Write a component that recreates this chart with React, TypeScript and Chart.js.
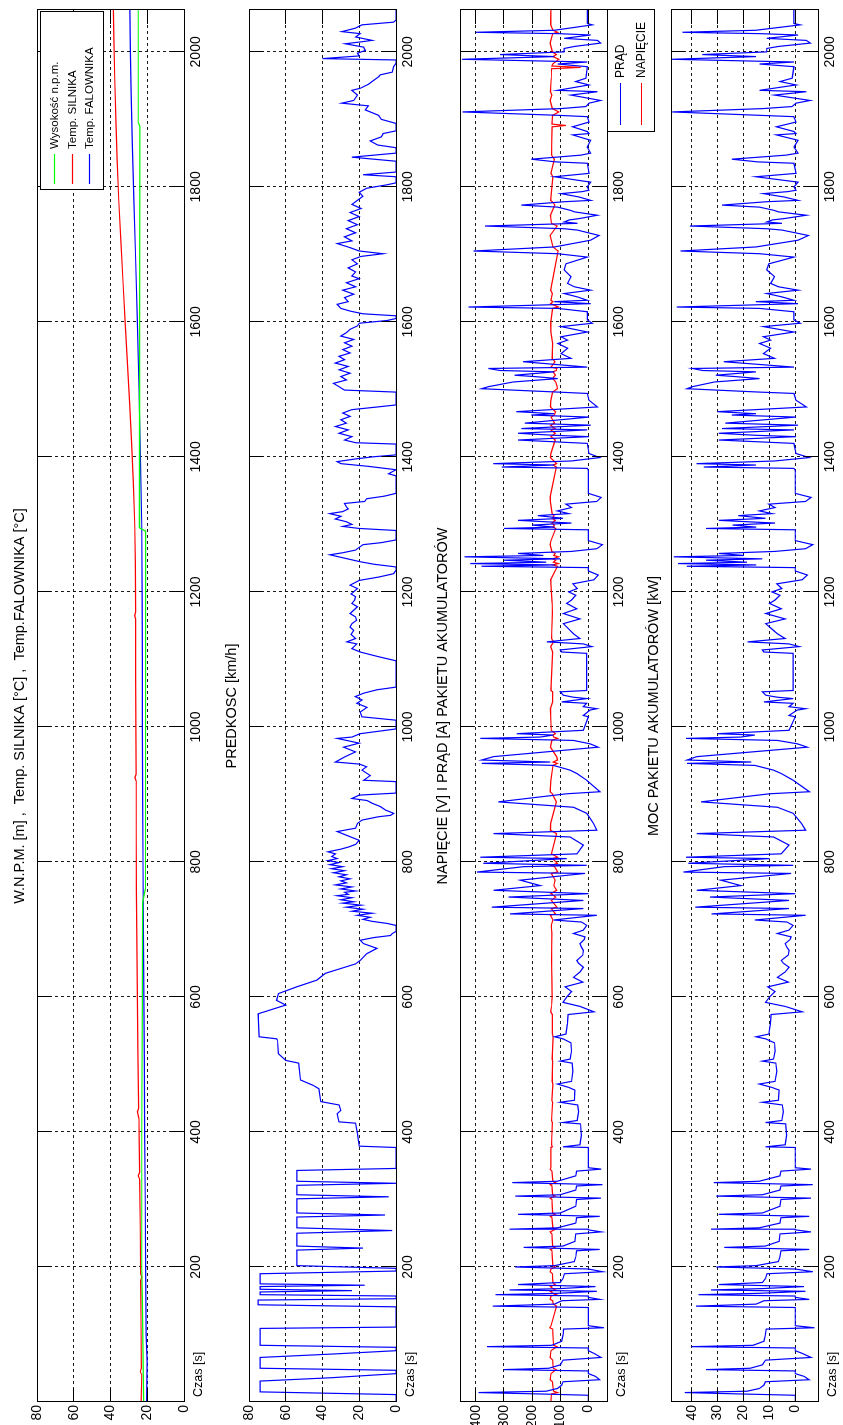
import React, { useEffect, useRef } from "react";
import { Chart, registerables } from "chart.js";

Chart.register(...registerables);

// ---------------- layout (figure drawn in landscape, then rotated) ----------------
const FIG_W = 1425;
const FIG_H = 843;
const PLOT_L = 23;
const PLOT_R = 1415;
const PANEL_TOPS = [37, 249, 460, 671];
const PANEL_H = 147;
const TOP_PAD = 35;
const TICK_LEN = 14;
const FONT = '"Liberation Sans", Arial, Helvetica, sans-serif';

// ---------------- data ----------------
const TIME_MIN = 0;
const TIME_MAX = 2062;
const TIME_TICKS = [0, 200, 400, 600, 800, 1000, 1200, 1400, 1600, 1800, 2000];

const TITLES = [
  "W.N.P.M. [m] ,  Temp. SILNIKA [°C] ,  Temp.FALOWNIKA [°C]",
  "PREDKOSC [km/h]",
  "NAPIĘCIE [V] I PRĄD [A] PAKIETU AKUMULATORÓW",
  "MOC PAKIETU AKUMULATORÓW [kW]",
];

const TEMP_TICKS = [0, 20, 40, 60, 80];
const SPEED_TICKS = [0, 20, 40, 60, 80];
const ELEC_TICKS = [0, 100, 200, 300, 400];
const POWER_TICKS = [0, 10, 20, 30, 40];

const LEGEND1 = ["Wysokość n.p.m.", "Temp. SILNIKA", "Temp. FALOWNIKA"];
const LEGEND3 = ["PRĄD", "NAPIĘCIE"];

type Pt = [number, number];

// altitude [m]
const altitudePts: Pt[] = [
  [0, 22.0], [150, 22.6], [200, 23.0], [400, 23.0], [600, 22.7], [740, 22.5], [760, 21.0],
  [1290, 20.9], [1295, 24.3], [1600, 24.2], [1890, 24.0], [1895, 24.9], [2062, 24.9],
];

// motor temperature [°C]
const motorTempPts: Pt[] = [
  [0, 23.3], [40, 23.0], [45, 23.8], [50, 23.2], [120, 23.4], [180, 23.6], [185, 22.9], [190, 23.6],
  [260, 23.8], [330, 24.1], [335, 24.9], [340, 24.2], [420, 24.6], [430, 25.4], [435, 24.7],
  [520, 25.1], [600, 25.4], [680, 25.7], [760, 25.9], [840, 26.0], [920, 26.1], [925, 26.7],
  [930, 26.1], [1000, 26.2], [1080, 26.3], [1160, 26.3], [1165, 26.9], [1170, 26.3], [1240, 26.5],
  [1300, 26.8], [1360, 27.5], [1420, 28.5], [1480, 29.6], [1540, 30.8], [1600, 32.0], [1660, 33.2],
  [1720, 34.4], [1780, 35.5], [1840, 36.4], [1900, 37.1], [1960, 37.7], [2020, 38.2], [2062, 38.4],
];

// inverter temperature [°C]
const inverterTempPts: Pt[] = [
  [0, 20.3], [60, 20.1], [100, 20.6], [200, 20.9], [300, 21.1], [400, 21.4], [500, 21.6],
  [600, 21.8], [700, 22.1], [800, 22.3], [900, 22.5], [1000, 22.6], [1100, 22.7], [1200, 22.8],
  [1300, 23.0], [1400, 23.7], [1500, 24.5], [1600, 25.4], [1700, 26.4], [1780, 27.3],
  [1860, 28.1], [1940, 28.8], [2000, 29.2], [2062, 29.5],
];

// speed [km/h]
const speedPts: Pt[] = [
  [0, 0], [11, 0], [15, 74], [31, 74], [36, 35], [42, 0], [47, 0], [50, 74], [66, 74], [71, 35],
  [76, 0], [81, 0], [84, 74], [109, 74], [111, 0], [141, 0], [144, 75], [151, 75], [153, 0],
  [157, 0], [159, 74], [163, 74], [165, 24], [167, 74], [171, 74], [173, 17], [175, 74], [190, 74],
  [194, 0], [198, 0], [202, 54], [225, 54], [228, 18], [231, 54], [250, 54], [254, 2], [258, 54],
  [274, 54], [277, 6], [280, 54], [301, 54], [304, 4], [307, 54], [321, 54], [324, 0], [327, 54],
  [343, 54], [346, 0], [377, 0], [379, 20], [398, 21], [413, 22], [415, 31], [427, 32], [432, 30],
  [440, 31], [445, 41], [464, 42], [469, 45], [477, 52], [502, 53], [506, 60], [516, 64],
  [536, 64.5], [538, 65], [541, 74.5], [575, 75], [588, 60], [595, 65], [605, 64], [615, 54],
  [625, 43], [635, 38.5], [649, 22], [654, 19.5], [664, 16], [672, 10.4], [679, 17.6], [684, 19.5],
  [688, 12], [691, 3], [694, 2], [697, 0], [706, 0], [709, 5], [712, 13], [715, 18], [718, 14],
  [721, 21], [724, 13], [727, 24], [730, 18], [733, 27], [736, 19], [739, 29], [741, 23], [744, 30],
  [747, 24], [750, 32], [752, 26], [755, 28], [757, 22], [760, 30], [763, 24], [766, 33], [769, 27],
  [772, 30], [775, 25], [778, 31], [781, 27], [784, 34], [787, 28], [790, 35], [793, 29], [796, 36],
  [799, 31], [802, 37], [805, 32], [808, 35], [812, 33], [815, 37], [819, 30], [822, 26], [826, 22],
  [832, 20], [845, 32], [850, 22], [857, 21],
  [862, 18.5], [867, 9.5], [869, 3], [872, 1.3], [877, 5.8], [882, 8.5], [887, 13], [891, 15.8],
  [894, 24], [899, 20], [902, 0], [919, 0], [921, 17.6], [928, 14], [936, 18.5], [941, 16],
  [945, 20], [948, 33], [956, 27.6], [963, 22], [970, 28.5], [976, 20], [983, 32], [985, 24],
  [990, 19.5], [997, 0], [1010, 0], [1015, 18.5], [1022, 19.5], [1029, 15.8], [1035, 21.3],
  [1040, 18.5], [1045, 22.2], [1050, 17.6], [1055, 10.4], [1059, 0], [1098, 0], [1104, 9.5],
  [1111, 19.5], [1116, 24], [1123, 21.3], [1126, 26.7], [1131, 22], [1137, 24.5], [1143, 23],
  [1148, 25], [1153, 24], [1158, 21.5], [1163, 22], [1168, 25], [1173, 23], [1178, 21], [1183, 24],
  [1188, 22.5], [1193, 22], [1197, 24.5], [1200, 23], [1205, 21], [1210, 25], [1217, 20],
  [1222, 9.5], [1227, 1.3], [1232, 0], [1237, 0], [1241, 12], [1245, 20], [1250, 28], [1255, 36],
  [1258, 29], [1262, 22], [1266, 20], [1270, 18], [1273, 8], [1277, 0], [1291, 0], [1294, 20],
  [1297, 29], [1300, 24], [1304, 27], [1308, 33], [1312, 30], [1316, 36], [1319, 29], [1323, 26],
  [1326, 27], [1331, 28], [1334, 17], [1338, 16], [1342, 6], [1346, 0], [1372, 0], [1375, 4],
  [1378, 2], [1381, 0], [1386, 15], [1390, 30], [1393, 32], [1397, 22], [1400, 13], [1403, 0],
  [1419, 0], [1421, 22], [1425, 28], [1430, 24], [1435, 31], [1440, 26], [1445, 33], [1450, 27],
  [1455, 30], [1460, 25], [1465, 29], [1470, 24], [1474, 10], [1477, 0], [1496, 0], [1499, 28],
  [1504, 31], [1509, 34], [1514, 27], [1519, 30], [1524, 25], [1529, 31], [1534, 26], [1539, 33],
  [1544, 28], [1549, 31], [1554, 25], [1559, 29], [1564, 24], [1569, 28], [1574, 23], [1579, 30],
  [1584, 27], [1589, 25], [1594, 21], [1598, 20], [1602, 5], [1605, 0], [1609, 0], [1612, 18],
  [1616, 25], [1620, 30], [1626, 32], [1630, 26], [1636, 28], [1641, 23], [1647, 29], [1652, 22],
  [1658, 27], [1664, 20], [1668, 24], [1674, 22], [1680, 26], [1686, 21], [1692, 24], [1697, 19],
  [1701, 7], [1705, 20], [1710, 25], [1716, 32], [1720, 24], [1726, 28], [1732, 22], [1738, 27],
  [1744, 21], [1750, 26], [1756, 20], [1762, 25], [1768, 19], [1774, 24], [1780, 21], [1786, 18],
  [1792, 20], [1798, 16], [1803, 5], [1806, 0], [1815, 0], [1818, 18], [1822, 0], [1838, 0],
  [1844, 24], [1850, 0], [1858, 0], [1862, 10], [1868, 14], [1874, 8], [1879, 7], [1883, 0],
  [1894, 0], [1900, 8], [1906, 9.5], [1914, 16.7], [1920, 15], [1924, 29.5], [1928, 23],
  [1936, 21], [1943, 24], [1946, 19.5], [1952, 15], [1958, 12], [1963, 9.5], [1966, 8.5],
  [1970, 2], [1978, 1.3], [1983, 0], [1988, 0], [1990, 40], [1994, 20], [1998, 21], [2002, 16.7],
  [2007, 17.6], [2012, 27.6], [2015, 18.5], [2017, 13], [2022, 22], [2027, 19.5], [2030, 29.5],
  [2035, 22.2], [2040, 18.5], [2044, 1.3], [2047, 0], [2062, 0],
];

// battery current [A]
const currentPts: Pt[] = [
  [0, 0], [10, 0], [12, 180], [14, 390], [16, 150], [20, 110], [25, 95], [30, 90], [33, -40],
  [38, -25], [42, 0], [46, 0], [48, 300], [50, 140], [55, 100], [62, 90], [66, -45], [72, -20],
  [76, 0], [80, 0], [82, 360], [84, 130], [90, 95], [100, 90], [108, 88], [110, -55], [113, 0],
  [140, 0], [142, 340], [145, 120], [150, 95], [152, -40], [155, 0], [157, 0], [159, 330],
  [161, 110], [164, -30], [166, 280], [168, 100], [171, -25], [174, 250], [177, 100], [183, 90],
  [190, 85], [193, -50], [197, 0], [200, 260], [202, 120], [208, 50], [215, 45], [224, 42],
  [226, -40], [229, 230], [231, 90], [238, 48], [249, 45], [252, -45], [255, 0], [256, 280],
  [258, 110], [265, 45], [273, 42], [275, -40], [278, 250], [280, 100], [290, 45], [300, 42],
  [302, -45], [305, 260], [307, 100], [314, 45], [320, 42], [322, -50], [325, 270], [327, 110],
  [335, 45], [342, 42], [345, -45], [347, 0], [377, 0], [378, 90], [381, 30], [395, 25], [412, 28],
  [414, 90], [417, 40], [430, 35], [440, 38], [444, 100], [447, 50], [462, 48], [466, 70],
  [471, 110], [475, 60], [490, 55], [502, 58], [505, 100], [508, 65], [520, 60], [532, 62],
  [538, 90], [541, 120], [545, 80], [560, 75], [574, 72], [578, -20], [586, 30], [592, 90],
  [600, 77], [608, 60], [615, 83], [622, 20], [629, 53], [637, 30], [644, 18], [650, 35], [654, 41],
  [662, 20], [669, 18], [674, 25], [679, 30], [685, 15], [689, 12], [694, 53], [699, 18], [706, 6],
  [711, 24], [714, 124], [721, -30], [723, 278], [731, 18], [733, 343], [743, 18], [748, 284],
  [753, 0], [758, 337], [765, 171], [773, 242], [783, 12], [785, 396], [793, 231], [795, 6],
  [798, 373], [805, 77], [807, 384], [812, 41], [825, 18], [837, 65], [842, 337], [847, -30],
  [857, -18], [872, 6], [881, 53], [889, 320], [901, 77], [904, -41], [921, 6], [931, 41], [936, 65],
  [943, 124], [946, 379], [948, 136], [951, 379], [956, 337], [970, -35], [975, -6], [980, 53],
  [983, 384], [985, 171], [988, 124], [990, 254], [995, 18], [1015, 0], [1017, 18], [1025, -6],
  [1027, -30], [1030, 18], [1035, 6], [1037, 95], [1042, 6], [1044, 53], [1047, 89], [1052, 100],
  [1054, 6], [1109, 6], [1111, 95], [1114, 100], [1119, -12], [1123, 18], [1126, 148], [1131, 30],
  [1138, 53], [1143, 65], [1153, 89], [1160, 30], [1168, 89], [1175, 41], [1183, 77], [1188, 60],
  [1195, 45], [1200, 70], [1205, 40], [1212, 55], [1218, -20], [1225, -35], [1231, 0], [1236, 0],
  [1238, 380], [1240, 120], [1242, 420], [1244, 150], [1247, 300], [1249, 100], [1252, 440],
  [1254, 160], [1257, 250], [1260, 60], [1264, -30], [1270, -50], [1276, 0], [1292, 0],
  [1294, 300], [1296, 120], [1299, 200], [1302, 60], [1306, 250], [1309, 90], [1313, 180],
  [1316, 70], [1320, 110], [1325, 60], [1330, 80], [1334, -30], [1340, -45], [1346, 0], [1380, 0],
  [1383, 4], [1385, 308], [1388, 121], [1390, 338], [1394, 60], [1399, -40], [1405, -2], [1420, 4],
  [1425, 250], [1430, -2], [1432, 121], [1435, 250], [1440, 4], [1442, 238], [1447, -8],
  [1450, 226], [1459, -2], [1462, 203], [1464, 121], [1467, 256], [1474, -32], [1484, -2],
  [1494, 4], [1496, 109], [1501, 379], [1504, 355], [1511, 267], [1516, 109], [1519, 191],
  [1521, 262], [1526, 121], [1528, 314], [1531, 355], [1533, 4], [1541, 232], [1546, 62],
  [1553, 97], [1561, 74], [1568, 109], [1573, 74], [1578, 97], [1585, 4], [1593, 97], [1598, -14],
  [1603, 4], [1615, 4], [1620, 109], [1622, 426], [1627, -8], [1630, 121], [1632, 4], [1637, 39],
  [1642, 86], [1647, -8], [1652, 50], [1657, 74], [1667, 62], [1677, 86], [1686, 80], [1696, 4],
  [1701, 109], [1705, 408], [1711, 121], [1721, -8], [1728, -38], [1736, 39], [1738, 86],
  [1742, 367], [1746, 39], [1748, 86], [1751, 68], [1753, 33], [1758, -32], [1763, 50], [1765, 62],
  [1770, 109], [1773, 238], [1778, 86], [1780, -8], [1785, 33], [1790, 97], [1793, 21], [1795, -2],
  [1800, 4], [1807, -8], [1815, 121], [1820, -2], [1835, 4], [1837, 115], [1841, 203], [1847, 27],
  [1850, -8], [1859, 4], [1869, -8], [1877, 56], [1879, -2], [1882, 4], [1889, 56], [1896, -2],
  [1904, 4], [1906, 109], [1911, 447], [1916, 97], [1919, 9], [1924, -2], [1928, -43], [1936, 62],
  [1941, -32], [1943, 109], [1951, -2], [1956, 45], [1961, 9], [1978, 4], [1982, 109], [1985, 4],
  [1989, 449], [1993, 121], [1996, 314], [2000, 86], [2005, 86], [2008, 50], [2013, -43],
  [2017, -32], [2020, 86], [2025, -8], [2027, 109], [2029, 400], [2032, 121], [2040, -14],
  [2042, 4], [2062, 4],
];

// battery voltage [V]
const voltagePts: Pt[] = [
  [0, 133], [12, 131], [14, 110], [16, 124], [30, 128], [33, 136], [42, 133], [48, 115], [50, 125],
  [62, 127], [66, 136], [76, 133], [82, 112], [84, 124], [108, 127], [110, 137], [113, 133],
  [142, 113], [145, 125], [150, 127], [152, 136], [157, 133], [159, 114], [161, 126], [164, 135],
  [166, 117], [168, 126], [171, 135], [174, 118], [177, 126], [190, 128], [193, 136], [197, 133],
  [200, 117], [202, 126], [224, 130], [226, 135], [229, 119], [231, 127], [249, 130], [252, 136],
  [256, 117], [258, 126], [273, 130], [275, 135], [278, 118], [280, 127], [300, 130], [302, 136],
  [305, 118], [307, 127], [320, 130], [322, 136], [325, 117], [327, 126], [342, 130], [345, 136],
  [347, 133], [377, 133], [378, 128], [381, 131], [414, 128], [417, 131], [444, 127], [447, 130],
  [471, 126], [475, 129], [505, 127], [508, 129], [541, 125], [545, 128], [574, 128], [578, 134],
  [586, 131], [600, 129], [629, 130], [654, 131], [694, 130], [706, 132], [714, 126], [721, 135],
  [723, 117], [731, 132], [733, 112], [743, 132], [748, 116], [753, 133], [758, 113], [765, 123],
  [773, 118], [783, 132], [785, 109], [793, 120], [795, 133], [798, 110], [805, 128], [807, 109],
  [812, 131], [842, 113], [847, 135], [857, 134], [889, 114], [901, 128], [904, 136], [921, 133],
  [943, 126], [946, 110], [948, 125], [951, 110], [956, 113], [970, 135], [980, 130], [983, 109],
  [985, 123], [988, 126], [990, 117], [995, 132], [1027, 135], [1037, 127], [1052, 127],
  [1054, 133], [1111, 127], [1119, 134], [1126, 124], [1131, 131], [1168, 128], [1183, 129],
  [1218, 134], [1238, 110], [1240, 125], [1242, 107], [1244, 124], [1247, 116], [1249, 127],
  [1252, 106], [1254, 123], [1257, 118], [1260, 130], [1270, 136], [1276, 133], [1294, 116],
  [1296, 126], [1299, 121], [1302, 130], [1306, 118], [1309, 128], [1313, 122], [1316, 129],
  [1334, 135], [1340, 136], [1346, 133], [1385, 114], [1388, 125], [1390, 113], [1399, 135],
  [1405, 133], [1425, 118], [1430, 133], [1435, 118], [1440, 133], [1442, 119], [1447, 134],
  [1450, 120], [1459, 133], [1462, 121], [1467, 117], [1474, 135], [1484, 133], [1496, 127],
  [1501, 110], [1504, 111], [1511, 116], [1516, 127], [1519, 122], [1521, 117], [1526, 126],
  [1528, 114], [1531, 112], [1533, 133], [1541, 119], [1546, 129], [1568, 127], [1585, 133],
  [1598, 134], [1620, 127], [1622, 107], [1627, 134], [1630, 126], [1632, 133], [1642, 128],
  [1647, 134], [1705, 108], [1711, 126], [1728, 136], [1742, 111], [1746, 131], [1758, 135],
  [1773, 119], [1778, 128], [1780, 134], [1815, 126], [1820, 133], [1841, 121], [1847, 131],
  [1877, 130], [1889, 129], [1891, 80], [1893, 130], [1906, 127], [1911, 105], [1916, 128],
  [1928, 136], [1936, 130], [1941, 135], [1961, 132], [1975, 131], [1977, 27], [1979, 130],
  [1982, 127], [1989, 105], [1993, 126], [1996, 114], [2000, 128], [2013, 136], [2027, 127],
  [2029, 109], [2032, 126], [2040, 134], [2062, 133],
];

// battery power [kW]
const powerPts: Pt[] = [
  [0, 0], [10, 0], [12, 22.0], [14, 42.7], [16, 18.6], [20, 13.9], [25, 12.1], [30, 11.5], [33, -5.4],
  [38, -3.4], [42, 0], [46, 0], [48, 34.5], [50, 17.4], [55, 12.7], [62, 11.5], [66, -6.1], [72, -2.7],
  [76, 0], [80, 0], [82, 40.1], [84, 16.3], [90, 12.1], [100, 11.5], [108, 11.2], [110, -7.4], [113, 0],
  [140, 0], [142, 38.3], [145, 15.1], [150, 12.1], [152, -5.4], [155, 0], [157, 0], [159, 37.4],
  [161, 13.9], [164, -4.0], [166, 32.5], [168, 12.7], [171, -3.4], [174, 29.5], [177, 12.7], [183, 11.5],
  [190, 10.9], [193, -6.8], [197, 0], [200, 30.5], [202, 15.1], [208, 6.5], [215, 5.9], [224, 5.5],
  [226, -5.4], [229, 27.4], [231, 11.5], [238, 6.2], [249, 5.9], [252, -6.1], [255, 0], [256, 32.5],
  [258, 13.9], [265, 5.9], [273, 5.5], [275, -5.4], [278, 29.5], [280, 12.7], [290, 5.9], [300, 5.5],
  [302, -6.1], [305, 30.5], [307, 12.7], [314, 5.9], [320, 5.5], [322, -6.8], [325, 31.5], [327, 13.9],
  [335, 5.9], [342, 5.5], [345, -6.1], [347, 0], [377, 0], [378, 11.5], [381, 3.9], [395, 3.3], [412, 3.7],
  [414, 11.5], [417, 5.2], [430, 4.6], [440, 5.0], [444, 12.7], [447, 6.5], [462, 6.2], [466, 9.0],
  [471, 13.9], [475, 7.8], [490, 7.1], [502, 7.5], [505, 12.7], [508, 8.4], [520, 7.8], [532, 8.0],
  [538, 11.5], [541, 15.1], [545, 10.2], [560, 9.6], [574, 9.3], [578, -2.7], [586, 3.9], [592, 11.5],
  [600, 9.9], [608, 7.8], [615, 10.6], [622, 2.7], [629, 6.9], [637, 3.9], [644, 2.4], [650, 4.6], [654, 5.4],
  [662, 2.7], [669, 2.4], [674, 3.3], [679, 3.9], [685, 2.0], [689, 1.6], [694, 6.9], [699, 2.4], [706, 0.8],
  [711, 3.2], [714, 15.6], [721, -4.0], [723, 32.3], [731, 2.4], [733, 38.6], [743, 2.4], [748, 32.9],
  [753, 0], [758, 38.0], [765, 21.0], [773, 28.7], [783, 1.6], [785, 43.2], [793, 27.5], [795, 0.8],
  [798, 41.3], [805, 9.9], [807, 42.2], [812, 5.4], [825, 2.4], [837, 8.4], [842, 38.0], [847, -4.0],
  [857, -2.4], [872, 0.8], [881, 6.9], [889, 36.4], [901, 9.9], [904, -5.5], [921, 0.8], [931, 5.4], [936, 8.4],
  [943, 15.6], [946, 41.8], [948, 17.0], [951, 41.8], [956, 38.0], [970, -4.7], [975, -0.8], [980, 6.9],
  [983, 42.2], [985, 21.0], [988, 15.6], [990, 29.9], [995, 2.4], [1015, 0], [1017, 2.4], [1025, -0.8],
  [1027, -4.0], [1030, 2.4], [1035, 0.8], [1037, 12.1], [1042, 0.8], [1044, 6.9], [1047, 11.4], [1052, 12.7],
  [1054, 0.8], [1109, 0.8], [1111, 12.1], [1114, 12.7], [1119, -1.6], [1123, 2.4], [1126, 18.4], [1131, 3.9],
  [1138, 6.9], [1143, 8.4], [1153, 11.4], [1160, 3.9], [1168, 11.4], [1175, 5.4], [1183, 9.9], [1188, 7.8],
  [1195, 5.9], [1200, 9.0], [1205, 5.2], [1212, 7.1], [1218, -2.7], [1225, -4.7], [1231, 0], [1236, 0],
  [1238, 41.9], [1240, 15.1], [1242, 45.3], [1244, 18.6], [1247, 34.5], [1249, 12.7], [1252, 46.9],
  [1254, 19.8], [1257, 29.5], [1260, 7.8], [1264, -4.0], [1270, -6.8], [1276, 0], [1292, 0],
  [1294, 34.5], [1296, 15.1], [1299, 24.2], [1302, 7.8], [1306, 29.5], [1309, 11.5], [1313, 22.0],
  [1316, 9.0], [1320, 13.9], [1325, 7.8], [1330, 10.2], [1334, -4.0], [1340, -6.1], [1346, 0], [1380, 0],
  [1383, 0.5], [1385, 35.3], [1388, 15.2], [1390, 38.1], [1394, 7.8], [1399, -5.4], [1405, -0.3], [1420, 0.5],
  [1425, 29.5], [1430, -0.3], [1432, 15.2], [1435, 29.5], [1440, 0.5], [1442, 28.3], [1447, -1.1],
  [1450, 27.0], [1459, -0.3], [1462, 24.5], [1464, 15.2], [1467, 30.1], [1474, -4.3], [1484, -0.3],
  [1494, 0.5], [1496, 13.8], [1501, 41.8], [1504, 39.7], [1511, 31.2], [1516, 13.8], [1519, 23.2],
  [1521, 30.7], [1526, 15.2], [1528, 35.9], [1531, 39.7], [1533, 0.5], [1541, 27.6], [1546, 8.0],
  [1553, 12.3], [1561, 9.5], [1568, 13.8], [1573, 9.5], [1578, 12.3], [1585, 0.5], [1593, 12.3], [1598, -1.9],
  [1603, 0.5], [1615, 0.5], [1620, 13.8], [1622, 45.8], [1627, -1.1], [1630, 15.2], [1632, 0.5], [1637, 5.1],
  [1642, 11.0], [1647, -1.1], [1652, 6.5], [1657, 9.5], [1667, 8.0], [1677, 11.0], [1686, 10.2], [1696, 0.5],
  [1701, 13.8], [1705, 44.3], [1711, 15.2], [1721, -1.1], [1728, -5.1], [1736, 5.1], [1738, 11.0],
  [1742, 40.7], [1746, 5.1], [1748, 11.0], [1751, 8.8], [1753, 4.3], [1758, -4.3], [1763, 6.5], [1765, 8.0],
  [1770, 13.8], [1773, 28.3], [1778, 11.0], [1780, -1.1], [1785, 4.3], [1790, 12.3], [1793, 2.8], [1795, -0.3],
  [1800, 0.5], [1807, -1.1], [1815, 15.2], [1820, -0.3], [1835, 0.5], [1837, 14.5], [1841, 24.5], [1847, 3.6],
  [1850, -1.1], [1859, 0.5], [1869, -1.1], [1877, 7.3], [1879, -0.3], [1882, 0.5], [1889, 7.3], [1896, -0.3],
  [1904, 0.5], [1906, 13.8], [1911, 47.5], [1916, 12.3], [1919, 1.2], [1924, -0.3], [1928, -5.8], [1936, 8.0],
  [1941, -4.3], [1943, 13.8], [1951, -0.3], [1956, 5.9], [1961, 1.2], [1978, 0.5], [1982, 13.8], [1985, 0.5],
  [1989, 47.6], [1993, 15.2], [1996, 35.9], [2000, 11.0], [2005, 11.0], [2008, 6.5], [2013, -5.8],
  [2017, -4.3], [2020, 11.0], [2025, -1.1], [2027, 13.8], [2029, 43.6], [2032, 15.2], [2040, -1.9],
  [2042, 0.5], [2062, 0.5],
];

// ---------------- chart helpers ----------------
const BLUE = "rgb(0,0,255)";
const RED = "rgb(255,0,0)";
const GREEN = "rgb(0,255,0)";
const GRID = "rgba(0,0,0,0.9)";
const LINE_W = 1.2;

type Legend = {
  fromRight: number;
  width: number;
  topOff: number;
  below: boolean;
  height: number;
  rows: number[];
  lineFrom: number;
  lineTo: number;
  textAt: number;
  fontSize: number;
  items: { label: string; color: string }[];
};

type PanelDef = {
  title: string;
  yMin: number;
  yMax: number;
  yTicks: number[];
  bot: number;
  series: { label: string; data: Pt[]; color: string }[];
  legend?: Legend;
};

const PANELS: PanelDef[] = [
  {
    title: TITLES[0],
    yMin: 0,
    yMax: 80,
    yTicks: TEMP_TICKS,
    bot: 25,
    series: [
      { label: LEGEND1[0], data: altitudePts, color: GREEN },
      { label: LEGEND1[1], data: motorTempPts, color: RED },
      { label: LEGEND1[2], data: inverterTempPts, color: BLUE },
    ],
    legend: {
      fromRight: 180,
      width: 178,
      topOff: 3,
      below: false,
      height: 63,
      rows: [14, 32, 49],
      lineFrom: 6,
      lineTo: 36,
      textAt: 41,
      fontSize: 11.5,
      items: [
        { label: LEGEND1[0], color: GREEN },
        { label: LEGEND1[1], color: RED },
        { label: LEGEND1[2], color: BLUE },
      ],
    },
  },
  {
    title: TITLES[1],
    yMin: 0,
    yMax: 80,
    yTicks: SPEED_TICKS,
    bot: 25,
    series: [{ label: "V", data: speedPts, color: BLUE }],
  },
  {
    title: TITLES[2],
    yMin: -66,
    yMax: 456,
    yTicks: ELEC_TICKS,
    bot: 50,
    series: [
      { label: LEGEND3[0], data: currentPts, color: BLUE },
      { label: LEGEND3[1], data: voltagePts, color: RED },
    ],
    legend: {
      fromRight: 122,
      width: 122,
      topOff: 0,
      below: true,
      height: 47,
      rows: [13, 34.5],
      lineFrom: 7,
      lineTo: 49,
      textAt: 54,
      fontSize: 12,
      items: [
        { label: LEGEND3[0], color: BLUE },
        { label: LEGEND3[1], color: RED },
      ],
    },
  },
  {
    title: TITLES[3],
    yMin: -8.8,
    yMax: 48,
    yTicks: POWER_TICKS,
    bot: 25,
    series: [{ label: "P", data: powerPts, color: BLUE }],
  },
];

const align = (p: number) => Math.round(p - 0.5) + 0.5;

function makeFramePlugin(def: PanelDef) {
  return {
    id: "matlabFrame",
    afterDraw(chart: any) {
      const { ctx, chartArea: a, scales } = chart;
      ctx.save();
      ctx.setLineDash([]);
      ctx.strokeStyle = "#000";
      ctx.lineWidth = 1;
      ctx.beginPath();
      for (const t of TIME_TICKS) {
        const x = align(scales.x.getPixelForValue(t));
        ctx.moveTo(x, a.top);
        ctx.lineTo(x, a.top + TICK_LEN);
        ctx.moveTo(x, a.bottom);
        ctx.lineTo(x, a.bottom - TICK_LEN);
      }
      for (const v of def.yTicks) {
        const y = align(scales.y.getPixelForValue(v));
        ctx.moveTo(a.left, y);
        ctx.lineTo(a.left + TICK_LEN, y);
        ctx.moveTo(a.right, y);
        ctx.lineTo(a.right - TICK_LEN, y);
      }
      ctx.stroke();
      ctx.strokeRect(align(a.left), align(a.top), Math.round(a.right - a.left), Math.round(a.bottom - a.top));

      ctx.fillStyle = "#000";
      ctx.font = `14.5px ${FONT}`;
      ctx.textAlign = "center";
      ctx.textBaseline = "middle";
      ctx.fillText(def.title, (a.left + a.right) / 2, a.top - 17);

      ctx.font = `12.5px ${FONT}`;
      ctx.textAlign = "left";
      ctx.fillText("Czas [s]", a.left + 5, a.bottom + 15);

      const lg = def.legend;
      if (lg) {
        const bx = Math.round(a.right - lg.fromRight);
        const by = Math.round(lg.below ? a.bottom + lg.topOff : a.top + lg.topOff);
        ctx.fillStyle = "#fff";
        ctx.fillRect(bx, by, lg.width, lg.height);
        ctx.strokeStyle = "#000";
        ctx.lineWidth = 1;
        ctx.strokeRect(bx + 0.5, by + 0.5, lg.width, lg.height);
        ctx.font = `${lg.fontSize}px ${FONT}`;
        ctx.textAlign = "left";
        ctx.textBaseline = "middle";
        lg.items.forEach((it, i) => {
          const y = align(by + lg.rows[i]);
          ctx.strokeStyle = it.color;
          ctx.lineWidth = LINE_W;
          ctx.beginPath();
          ctx.moveTo(bx + lg.lineFrom, y);
          ctx.lineTo(bx + lg.lineTo, y);
          ctx.stroke();
          ctx.fillStyle = "#000";
          ctx.fillText(it.label, bx + lg.textAt, y);
        });
      }
      ctx.restore();
    },
  };
}

function makeConfig(def: PanelDef): any {
  const tickFont = { family: FONT, size: 14 };
  return {
    type: "line",
    data: {
      datasets: def.series.map((s) => ({
        label: s.label,
        data: s.data.map(([x, y]) => ({ x, y })),
        borderColor: s.color,
        backgroundColor: s.color,
        borderWidth: LINE_W,
        pointRadius: 0,
        tension: 0,
        fill: false,
      })),
    },
    options: {
      animation: false,
      responsive: false,
      devicePixelRatio: 1,
      events: [],
      layout: { padding: { top: TOP_PAD, right: FIG_W - PLOT_R, left: 0, bottom: 0 } },
      plugins: { legend: { display: false }, tooltip: { enabled: false }, title: { display: false } },
      scales: {
        x: {
          type: "linear",
          min: TIME_MIN,
          max: TIME_MAX,
          afterBuildTicks: (s: any) => {
            s.ticks = TIME_TICKS.map((v) => ({ value: v }));
          },
          afterFit: (s: any) => {
            s.height = def.bot;
            s.paddingLeft = 0;
            s.paddingRight = 0;
          },
          ticks: {
            autoSkip: false,
            maxRotation: 0,
            minRotation: 0,
            padding: 4,
            color: "#000",
            font: tickFont,
            callback: (v: any) => (v === 0 ? "" : String(v)),
          },
          grid: { color: GRID, lineWidth: 1, drawTicks: false },
          border: { display: false, dash: [3, 3] },
        },
        y: {
          type: "linear",
          min: def.yMin,
          max: def.yMax,
          afterBuildTicks: (s: any) => {
            s.ticks = def.yTicks.map((v) => ({ value: v }));
          },
          afterFit: (s: any) => {
            s.width = PLOT_L;
          },
          ticks: { autoSkip: false, padding: 3, color: "#000", font: tickFont },
          grid: { color: GRID, lineWidth: 1, drawTicks: false },
          border: { display: false, dash: [3, 3] },
        },
      },
    },
    plugins: [makeFramePlugin(def)],
  };
}

function Panel({ def, top }: { def: PanelDef; top: number }) {
  const ref = useRef<HTMLCanvasElement | null>(null);
  const h = TOP_PAD + PANEL_H + def.bot;
  useEffect(() => {
    if (!ref.current) return;
    const chart = new Chart(ref.current, makeConfig(def));
    return () => chart.destroy();
  }, [def]);
  return (
    <canvas
      ref={ref}
      width={FIG_W}
      height={h}
      style={{ position: "absolute", left: 0, top: top - TOP_PAD, width: FIG_W, height: h }}
    />
  );
}

export default function App() {
  return (
    <div
      style={{
        position: "fixed",
        left: 0,
        top: 0,
        width: FIG_H,
        height: FIG_W,
        overflow: "hidden",
        background: "#fff",
      }}
    >
      <div
        style={{
          position: "absolute",
          left: 0,
          top: 0,
          width: FIG_W,
          height: FIG_H,
          background: "#fff",
          transformOrigin: "0 0",
          transform: `translate(0px, ${FIG_W}px) rotate(-90deg)`,
        }}
      >
        {PANELS.map((p, i) => (
          <Panel key={i} def={p} top={PANEL_TOPS[i]} />
        ))}
      </div>
    </div>
  );
}
